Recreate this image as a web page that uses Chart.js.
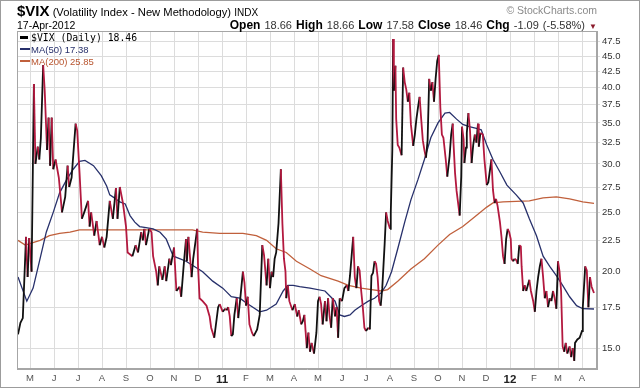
<!DOCTYPE html>
<html><head><meta charset="utf-8">
<script src="https://cdn.jsdelivr.net/npm/chart.js@4.4.1/dist/chart.umd.min.js"></script>
<style>
html,body{margin:0;padding:0;background:#fff;}
#wrap{position:relative;width:640px;height:388px;overflow:hidden;font-family:"Liberation Sans",Arial,sans-serif;color:#000;}
#frame{position:absolute;left:0;top:0;width:640px;height:388px;box-sizing:border-box;border:1px solid #9c9c9c;pointer-events:none;}
canvas{position:absolute;left:0;top:0;}
.t{position:absolute;white-space:nowrap;}
.lg{position:absolute;left:20px;white-space:nowrap;height:12px;line-height:12px;}
.lg i{display:inline-block;vertical-align:middle;margin-right:3px;position:relative;top:-1px;}
</style></head><body>
<div id="wrap">
<canvas id="c" width="640" height="388"></canvas>
<div class="t" style="left:17px;top:1px;line-height:19px;font-size:11.2px;"><b style="font-size:15px;">$VIX</b> (Volatility Index - New Methodology) <span style="font-size:10px;">INDX</span></div>
<div class="t" style="left:17px;top:19px;line-height:13px;font-size:10.5px;">17-Apr-2012</div>
<div class="t" style="right:43px;top:3px;line-height:14px;font-size:10.5px;color:#8a8a8a;">© StockCharts.com</div>
<div class="t" style="right:43px;top:18px;line-height:14px;font-size:11px;color:#333;word-spacing:1px;"><b style="font-size:12px;color:#000;">Open</b> 18.66 <b style="font-size:12px;color:#000;">High</b> 18.66 <b style="font-size:12px;color:#000;">Low</b> 17.58 <b style="font-size:12px;color:#000;">Close</b> 18.46 <b style="font-size:12px;color:#000;">Chg</b> -1.09 (-5.58%) <span style="font-size:8px;color:#8b1a2b;">▼</span></div>
<div class="lg" style="top:32px;font-family:'DejaVu Sans Mono',monospace;font-size:9.8px;"><i style="width:8px;height:3px;background:#000;"></i>$VIX (Daily) 18.46</div>
<div class="lg" style="top:44px;font-size:9.5px;color:#27306b;"><i style="width:10px;height:2px;background:#27306b;margin-right:1px;"></i>MA(50) 17.38</div>
<div class="lg" style="top:56px;font-size:9.5px;color:#b8552f;"><i style="width:10px;height:2px;background:#c0603c;margin-right:1px;"></i>MA(200) 25.85</div>
<div id="frame"></div>
</div>
<script>
// ---- data ----
const vixDates = ["2010-04-16","2010-04-19","2010-04-22","2010-04-26","2010-04-28","2010-04-30","2010-05-03","2010-05-04","2010-05-06","2010-05-08","2010-05-11","2010-05-13","2010-05-15","2010-05-18","2010-05-20","2010-05-23","2010-05-25","2010-05-27","2010-05-29","2010-05-31",
"2010-06-03","2010-06-07","2010-06-11","2010-06-15","2010-06-18","2010-06-20","2010-06-23","2010-06-28","2010-06-30","2010-07-03","2010-07-06","2010-07-09","2010-07-14","2010-07-16","2010-07-18","2010-07-22","2010-07-25","2010-07-29",
"2010-08-01","2010-08-04","2010-08-07","2010-08-11","2010-08-15","2010-08-19","2010-08-21","2010-08-24","2010-08-28","2010-09-01","2010-09-03","2010-09-09","2010-09-13","2010-09-16","2010-09-20","2010-09-22","2010-09-24","2010-09-26","2010-09-30",
"2010-10-03","2010-10-05","2010-10-09","2010-10-11","2010-10-13","2010-10-17","2010-10-20","2010-10-22","2010-10-26","2010-10-28","2010-11-01","2010-11-04","2010-11-08","2010-11-10","2010-11-13","2010-11-16","2010-11-17","2010-11-19","2010-11-23","2010-11-25","2010-11-30",
"2010-12-01","2010-12-03","2010-12-07","2010-12-12","2010-12-16","2010-12-18","2010-12-22","2010-12-27","2010-12-29","2011-01-02","2011-01-05","2011-01-07","2011-01-09","2011-01-11","2011-01-13","2011-01-15","2011-01-17","2011-01-20","2011-01-22","2011-01-25","2011-01-28","2011-01-30",
"2011-02-01","2011-02-03","2011-02-05","2011-02-08","2011-02-10","2011-02-14","2011-02-17","2011-02-20","2011-02-22","2011-02-25","2011-02-27","2011-03-01","2011-03-03","2011-03-05","2011-03-07","2011-03-09","2011-03-12","2011-03-15","2011-03-17","2011-03-19","2011-03-21","2011-03-22","2011-03-24","2011-03-26","2011-03-30",
"2011-04-02","2011-04-05","2011-04-07","2011-04-10","2011-04-12","2011-04-14","2011-04-17","2011-04-19","2011-04-21","2011-04-23","2011-04-26","2011-04-29","2011-05-01","2011-05-03","2011-05-05","2011-05-07","2011-05-10","2011-05-12","2011-05-14","2011-05-16","2011-05-18","2011-05-20","2011-05-23","2011-05-25","2011-05-27","2011-05-29",
"2011-06-01","2011-06-04","2011-06-07","2011-06-09","2011-06-11","2011-06-13","2011-06-15","2011-06-17","2011-06-19","2011-06-21","2011-06-23","2011-06-25","2011-06-27","2011-06-29","2011-07-01","2011-07-04","2011-07-06","2011-07-08","2011-07-10","2011-07-12","2011-07-14","2011-07-16","2011-07-18","2011-07-20","2011-07-22","2011-07-25","2011-07-27","2011-07-29",
"2011-08-01","2011-08-02","2011-08-04","2011-08-05","2011-08-06","2011-08-08","2011-08-09","2011-08-11","2011-08-13","2011-08-16","2011-08-18","2011-08-20","2011-08-22","2011-08-24","2011-08-26","2011-08-28","2011-08-31",
"2011-09-02","2011-09-04","2011-09-06","2011-09-08","2011-09-10","2011-09-12","2011-09-14","2011-09-16","2011-09-18","2011-09-20","2011-09-22","2011-09-24","2011-09-26","2011-09-28","2011-09-30",
"2011-10-02","2011-10-04","2011-10-06","2011-10-08","2011-10-11","2011-10-13","2011-10-16","2011-10-18","2011-10-20","2011-10-21","2011-10-23","2011-10-25","2011-10-29","2011-10-31",
"2011-11-01","2011-11-03","2011-11-04","2011-11-06","2011-11-07","2011-11-09","2011-11-11","2011-11-13","2011-11-15","2011-11-17","2011-11-19","2011-11-21","2011-11-22","2011-11-24","2011-11-27","2011-11-29",
"2011-12-02","2011-12-04","2011-12-08","2011-12-10","2011-12-12","2011-12-14","2011-12-16","2011-12-19","2011-12-21","2011-12-23","2011-12-25","2011-12-27","2011-12-29","2011-12-31",
"2012-01-02","2012-01-03","2012-01-05","2012-01-07","2012-01-09","2012-01-11","2012-01-13","2012-01-15","2012-01-16","2012-01-18","2012-01-20","2012-01-22","2012-01-24","2012-01-26","2012-01-28","2012-01-31",
"2012-02-02","2012-02-04","2012-02-06","2012-02-08","2012-02-10","2012-02-12","2012-02-14","2012-02-16","2012-02-18","2012-02-20","2012-02-22","2012-02-24","2012-02-26","2012-02-28",
"2012-03-01","2012-03-03","2012-03-05","2012-03-07","2012-03-09","2012-03-11","2012-03-13","2012-03-16","2012-03-18","2012-03-20","2012-03-22","2012-03-23","2012-03-26","2012-03-29",
"2012-04-01","2012-04-02","2012-04-05","2012-04-07","2012-04-09","2012-04-11","2012-04-13","2012-04-16"];
const vixValues = [15.8,16.5,16.8,22.8,19.6,22.7,20.0,25.0,40.5,30.0,32.0,30.5,33.0,43.5,39.5,31.6,35.7,29.8,35.7,29.4,
30.5,28.5,25.0,26.5,29.8,27.5,28.5,34.9,34.0,29.0,24.4,25.0,26.1,23.7,25.0,22.9,24.2,22.1,
22.8,21.9,22.8,26.1,24.4,27.4,24.4,27.5,25.9,23.7,21.5,21.2,22.1,21.5,23.2,22.5,23.5,22.1,23.5,
23.2,21.2,20.0,19.0,20.4,19.4,20.4,19.3,21.0,20.5,21.9,18.6,18.9,18.2,20.4,22.6,20.8,22.8,19.6,21.0,23.5,
20.5,18.1,17.9,17.6,16.9,16.2,15.6,17.5,17.7,17.2,17.4,17.3,17.5,16.9,15.7,15.8,17.0,18.1,16.8,18.3,20.0,19.2,
17.6,18.2,16.4,15.9,15.7,16.1,17.0,22.1,21.3,19.0,21.0,18.8,20.0,19.6,21.0,21.5,24.0,29.4,24.0,21.0,20.0,18.1,19.0,17.9,17.3,
17.7,16.9,17.3,16.4,16.6,17.0,15.0,15.9,14.8,15.3,14.7,15.9,17.9,18.2,17.7,16.4,17.9,16.6,18.1,16.9,16.2,18.1,16.9,17.5,15.6,18.1,
17.9,18.8,19.0,18.6,19.7,21.2,22.8,19.6,18.8,20.4,20.1,18.6,17.5,16.2,16.0,16.2,16.1,19.7,19.9,20.8,20.6,19.6,17.9,17.6,18.8,22.1,25.0,24.2,
23.5,25.0,31.6,48.0,39.5,43.4,35.5,32.2,31.9,31.0,43.1,40.8,39.7,37.9,39.2,34.8,32.1,
33.5,35.5,37.1,38.6,35.5,32.8,31.6,30.7,32.8,41.3,39.5,40.8,37.9,41.3,44.2,
45.2,37.1,33.5,33.1,30.5,28.6,30.9,33.5,34.9,32.5,29.0,27.1,24.7,28.6,
34.5,32.9,30.1,31.9,33.7,36.3,34.0,30.1,32.2,33.5,32.5,34.9,32.0,33.7,33.5,30.5,
27.7,28.0,30.5,27.2,25.9,26.3,25.6,24.1,22.8,21.2,20.6,22.6,23.5,23.2,
22.6,21.0,20.8,21.0,20.9,20.6,22.1,22.0,20.4,18.6,19.0,18.6,19.0,19.4,18.6,17.9,
17.2,18.6,19.6,20.4,21.0,19.6,18.1,18.6,17.5,18.1,17.9,18.6,18.1,17.4,
20.8,20.0,18.6,15.1,14.8,15.3,14.7,15.1,14.5,15.0,14.3,15.3,15.5,15.6,
16.0,17.5,20.4,20.1,17.5,19.6,18.9,18.46];

const ma50Dates = ["2010-04-16","2010-04-27","2010-05-05","2010-05-14","2010-05-22","2010-05-31","2010-06-08","2010-06-17","2010-06-25","2010-07-03","2010-07-10","2010-07-21","2010-07-31","2010-08-07","2010-08-11","2010-08-17","2010-08-24","2010-08-31","2010-09-06","2010-09-12","2010-09-18","2010-09-26","2010-10-05","2010-10-14","2010-10-22","2010-10-31","2010-11-08","2010-11-16","2010-11-29","2010-12-07","2010-12-20","2011-01-02","2011-01-13","2011-01-24","2011-02-01","2011-02-09","2011-02-17","2011-02-25","2011-03-09","2011-03-18","2011-03-24","2011-03-31","2011-04-08","2011-04-21","2011-05-10","2011-05-23","2011-05-29","2011-06-04","2011-06-11","2011-06-17","2011-06-25","2011-07-04","2011-07-12","2011-07-21","2011-07-27","2011-08-03","2011-08-11","2011-08-20","2011-08-28","2011-09-06","2011-09-14","2011-09-22","2011-10-01","2011-10-10","2011-10-16","2011-10-25","2011-11-02","2011-11-10","2011-11-19","2011-11-25","2011-12-02","2011-12-10","2011-12-19","2011-12-28","2012-01-09","2012-01-18","2012-01-26","2012-02-04","2012-02-12","2012-02-20","2012-02-28","2012-03-07","2012-03-16","2012-03-25","2012-04-02","2012-04-16"];
const ma50Values = [19.6,17.9,18.8,21.0,23.2,25.0,26.9,28.3,29.4,30.3,30.4,29.8,28.7,27.6,26.7,26.4,26.0,25.8,24.7,24.1,23.7,23.6,23.5,23.2,22.6,21.2,21.0,20.8,20.3,20.0,19.3,18.8,18.2,18.1,17.8,17.5,17.2,17.3,17.7,18.6,19.0,19.0,18.9,18.8,18.6,17.9,17.0,16.9,17.0,17.3,17.6,17.9,18.1,18.5,19.0,20.0,21.8,24.1,26.2,28.3,30.5,33.1,35.0,36.3,36.4,35.5,34.8,34.5,34.3,34.1,32.2,30.5,29.1,27.7,26.7,25.9,24.4,22.9,21.2,20.4,19.7,19.0,18.2,17.6,17.4,17.38];

const ma200Dates = ["2010-04-16","2010-04-25","2010-05-14","2010-05-26","2010-06-08","2010-06-21","2010-07-03","2010-07-29","2010-09-01","2010-10-20","2010-11-24","2010-12-07","2010-12-29","2011-01-28","2011-02-13","2011-02-25","2011-03-09","2011-03-22","2011-04-04","2011-04-21","2011-05-05","2011-05-27","2011-06-09","2011-06-25","2011-07-08","2011-07-21","2011-07-29","2011-08-11","2011-08-28","2011-09-14","2011-10-01","2011-10-16","2011-11-02","2011-11-19","2011-12-02","2011-12-10","2011-12-23","2012-01-26","2012-02-12","2012-02-28","2012-03-16","2012-04-02","2012-04-16"];
const ma200Values = [22.5,22.1,22.5,22.9,23.1,23.2,23.4,23.4,23.4,23.4,23.4,23.2,23.1,23.1,22.9,22.5,21.8,21.5,20.8,20.2,19.7,19.3,19.0,18.8,18.7,18.6,18.7,19.3,20.2,21.0,22.1,23.0,23.7,24.7,25.5,25.9,26.0,26.1,26.4,26.5,26.3,26.0,25.85];

const monthLetters = ["J","F","M","A","M","J","J","A","S","O","N","D"];
const monthTicks = [4,5,6,7,8,9,10,11,12,13,14,15,16,17,18,19,20,21,22,23,24,25,26,27]; // months since Jan 2010
const yTickValues = [15.0,17.5,20.0,22.5,25.0,27.5,30.0,32.5,35.0,37.5,40.0,42.5,45.0,47.5];

// ---- helpers ----
function monthPos(s){
  const p = s.split("-").map(Number);
  const dim = new Date(p[0], p[1], 0).getDate();
  return (p[0]-2010)*12 + (p[1]-1) + (p[2]-1)/dim;
}
function pts(dates, vals){ return dates.map((d,i)=>({x:monthPos(d), y:vals[i]})); }
function tickLabel(v){ return v % 12 === 0 ? String((2010 + v/12) % 100) : monthLetters[v % 12]; }

const UP = "#111111", DOWN = "#b3193f";
const FONT = "'Liberation Sans', Arial, sans-serif";

const framePlugin = {
  id:"frame",
  afterDraw(chart){
    const a = chart.chartArea, ctx = chart.ctx;
    ctx.save();
    ctx.strokeStyle = "#a6a6a6";
    ctx.lineWidth = 1;
    ctx.strokeRect(Math.round(a.left)+0.5, Math.round(a.top)+0.5, Math.round(a.right-a.left)-1, Math.round(a.bottom-a.top)-1);
    ctx.restore();
  }
};

new Chart(document.getElementById("c"), {
  type:"line",
  data:{datasets:[
    {label:"$VIX (Daily)", data:pts(vixDates, vixValues), borderColor:DOWN, borderWidth:1.8, pointRadius:0,
     segment:{borderColor: c => c.p1.parsed.y >= c.p0.parsed.y ? UP : DOWN}, order:0},
    {label:"MA(50)", data:pts(ma50Dates, ma50Values), borderColor:"#27306b", borderWidth:1.3, pointRadius:0, order:1},
    {label:"MA(200)", data:pts(ma200Dates, ma200Values), borderColor:"#c0603c", borderWidth:1.3, pointRadius:0, order:2}
  ]},
  options:{
    responsive:false, animation:false, devicePixelRatio:1,
    layout:{padding:{left:17, top:31, right:0, bottom:0}},
    plugins:{legend:{display:false}, tooltip:{enabled:false}},
    scales:{
      x:{type:"linear", min:3.458, max:27.625,
         afterBuildTicks: s => { s.ticks = monthTicks.map(v => ({value:v})); },
         afterFit: s => { s.height = 19; },
         grid:{color:"#dcdcdc", drawTicks:false},
         border:{color:"#a6a6a6"},
         ticks:{autoSkip:false, maxRotation:0, minRotation:0, padding:4,
           callback: v => tickLabel(v),
           color: c => (c.tick && c.tick.value % 12 === 0) ? "#222" : "#555",
           font: c => (c.tick && c.tick.value % 12 === 0) ? {family:FONT, size:11.5, weight:"bold"} : {family:FONT, size:9.5}}
      },
      y:{type:"logarithmic", position:"right", min:13.87, max:49.45,
         afterBuildTicks: s => { s.ticks = yTickValues.map(v => ({value:v})); },
         afterFit: s => { s.width = 43; },
         grid:{color:"#dcdcdc", tickLength:3},
         border:{color:"#a6a6a6"},
         ticks:{padding:2, callback: v => Number(v).toFixed(1), color:"#333", font:{family:FONT, size:9.5}}
      }
    }
  },
  plugins:[framePlugin]
});
</script>
</body></html>
